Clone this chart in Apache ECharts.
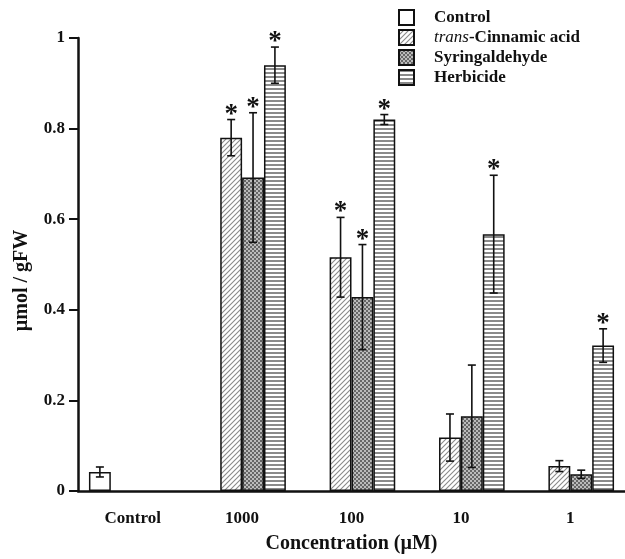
<!DOCTYPE html>
<html>
<head>
<meta charset="utf-8">
<script src="https://cdn.jsdelivr.net/npm/echarts@6/dist/echarts.min.js"></script>
<style>html,body{margin:0;padding:0;background:#fff;}#chart{width:625px;height:559px;}</style>
</head>
<body>
<div id="chart"></div>
<script>
const categories = ['Control', '1000', '100', '10', '1'];
const yTicks = [0, 0.2, 0.4, 0.6, 0.8, 1];
const seriesNames = ['Control', 'trans-Cinnamic acid', 'Syringaldehyde', 'Herbicide'];

const controlMean   = [0.042, null, null, null, null];
const controlErr    = [0.011, null, null, null, null];
const controlSig    = [0, 0, 0, 0, 0];

const cinnamicMean  = [null, 0.780, 0.516, 0.118, 0.055];
const cinnamicErr   = [null, 0.040, 0.088, 0.052, 0.012];
const cinnamicSig   = [0, 1, 1, 0, 0];

const syringMean    = [null, 0.692, 0.428, 0.165, 0.037];
const syringErr     = [null, 0.143, 0.116, 0.113, 0.009];
const syringSig     = [0, 1, 1, 0, 0];

const herbMean      = [null, 0.940, 0.820, 0.567, 0.321];
const herbErr       = [null, 0.040, 0.011, 0.130, 0.037];
const herbSig       = [0, 1, 1, 1, 1];

const FONT = "'Liberation Serif', 'Times New Roman', serif";

function makePattern(kind) {
  const c = document.createElement('canvas');
  let s = 6;
  if (kind === 'diag') s = 5;
  if (kind === 'check') s = 4;
  if (kind === 'horiz') s = 4;
  c.width = s; c.height = s;
  const ctx = c.getContext('2d');
  ctx.fillStyle = '#ffffff';
  ctx.fillRect(0, 0, s, s);
  if (kind === 'diag') {
    ctx.strokeStyle = '#8a8a8a';
    ctx.lineWidth = 1.1;
    ctx.beginPath();
    ctx.moveTo(0, s); ctx.lineTo(s, 0);
    ctx.moveTo(-1, 1); ctx.lineTo(1, -1);
    ctx.moveTo(s - 1, s + 1); ctx.lineTo(s + 1, s - 1);
    ctx.stroke();
  } else if (kind === 'check') {
    ctx.fillStyle = '#666666';
    ctx.fillRect(0, 0, 2, 2);
    ctx.fillRect(2, 2, 2, 2);
    ctx.fillStyle = '#bbbbbb';
    ctx.fillRect(2, 0, 2, 2);
    ctx.fillRect(0, 2, 2, 2);
  } else if (kind === 'horiz') {
    ctx.fillStyle = '#8a8a8a';
    ctx.fillRect(0, 0, s, 2);
  }
  return { image: c, repeat: 'repeat' };
}

const fills = [
  '#ffffff',
  makePattern('diag'),
  makePattern('check'),
  makePattern('horiz')
];

const means = [controlMean, cinnamicMean, syringMean, herbMean];
const errs = [controlErr, cinnamicErr, syringErr, herbErr];
const sigs = [controlSig, cinnamicSig, syringSig, herbSig];

const nSeries = means.length;
const catGapRatio = 0.2;

const barSeries = means.map((m, si) => ({
  name: seriesNames[si],
  type: 'bar',
  data: m.map(v => (v === null ? '-' : v)),
  barGap: '0%',
  barCategoryGap: (catGapRatio * 100) + '%',
  itemStyle: { color: fills[si], borderColor: '#111', borderWidth: 1.5 },
  emphasis: { disabled: true },
  z: 2
}));

const errData = [];
for (let si = 0; si < nSeries; si++) {
  for (let ci = 0; ci < categories.length; ci++) {
    if (means[si][ci] !== null) {
      errData.push([ci, si, means[si][ci], errs[si][ci], sigs[si][ci]]);
    }
  }
}

const errSeries = {
  type: 'custom',
  name: 'err',
  data: errData,
  z: 5,
  silent: true,
  encode: { x: 0, y: 2 },
  renderItem: function (params, api) {
    const ci = api.value(0), si = api.value(1);
    const m = api.value(2), e = api.value(3), sig = api.value(4);
    const catW = api.size([1, 0])[0];
    const barW = catW * (1 - catGapRatio) / nSeries;
    const cx = api.coord([ci, 0])[0] - catW * (1 - catGapRatio) / 2 + (si + 0.5) * barW;
    const yTop = api.coord([ci, m + e])[1];
    const yBot = api.coord([ci, m - e])[1];
    const cap = 4;
    const st = { stroke: '#111', lineWidth: 1.6 };
    const children = [
      { type: 'line', shape: { x1: cx, y1: yTop, x2: cx, y2: yBot }, style: st },
      { type: 'line', shape: { x1: cx - cap, y1: yTop, x2: cx + cap, y2: yTop }, style: st },
      { type: 'line', shape: { x1: cx - cap, y1: yBot, x2: cx + cap, y2: yBot }, style: st }
    ];
    if (sig) {
      children.push({
        type: 'text',
        style: {
          text: '*', x: cx, y: yTop - 5,
          align: 'center', verticalAlign: 'middle',
          fontFamily: FONT, fontWeight: 'bold', fontSize: 27, fill: '#111'
        }
      });
    }
    return { type: 'group', children: children };
  }
};

const chart = echarts.init(document.getElementById('chart'), null, { renderer: 'canvas' });
chart.setOption({
  animation: false,
  backgroundColor: '#ffffff',
  grid: { left: 78, top: 38, bottom: 66, width: 550, containLabel: false },
  legend: {
    orient: 'vertical',
    left: 398,
    top: 9,
    padding: 0,
    data: seriesNames.map(n => ({ name: n, icon: 'rect' })),
    itemWidth: 15,
    itemHeight: 15,
    itemGap: 3,
    selectedMode: false,
    formatter: function (name) {
      if (name === 'trans-Cinnamic acid') return '{i|trans}-Cinnamic acid';
      return name;
    },
    textStyle: {
      fontFamily: FONT, fontWeight: 'bold', fontSize: 17, color: '#111',
      padding: [0, 0, 0, 15], lineHeight: 15,
      rich: {
        i: { fontFamily: FONT, fontStyle: 'italic', fontWeight: 'normal', fontSize: 17, color: '#111', lineHeight: 15 }
      }
    }
  },
  xAxis: {
    type: 'category',
    data: categories,
    axisLine: { lineStyle: { color: '#111', width: 2.5 } },
    axisTick: { show: false },
    axisLabel: { margin: 19, fontFamily: FONT, fontWeight: 'bold', fontSize: 17, color: '#111' },
    name: 'Concentration (\u00b5M)',
    nameLocation: 'middle',
    nameGap: 43,
    nameTextStyle: { fontFamily: FONT, fontWeight: 'bold', fontSize: 20, color: '#111' }
  },
  yAxis: {
    type: 'value',
    min: yTicks[0],
    max: yTicks[yTicks.length - 1],
    interval: yTicks[1] - yTicks[0],
    axisLine: { show: true, lineStyle: { color: '#111', width: 2.5 } },
    axisTick: { show: true, length: 9, lineStyle: { color: '#111', width: 2 } },
    axisLabel: { margin: 13, fontFamily: FONT, fontWeight: 'bold', fontSize: 17, color: '#111' },
    splitLine: { show: false },
    name: '\u00b5mol / gFW',
    nameLocation: 'middle',
    nameGap: 46,
    nameTextStyle: { fontFamily: FONT, fontWeight: 'bold', fontSize: 20, color: '#111', padding: [0, 32, 0, 0] }
  },
  series: barSeries.concat([errSeries])
});
</script>
</body>
</html>
